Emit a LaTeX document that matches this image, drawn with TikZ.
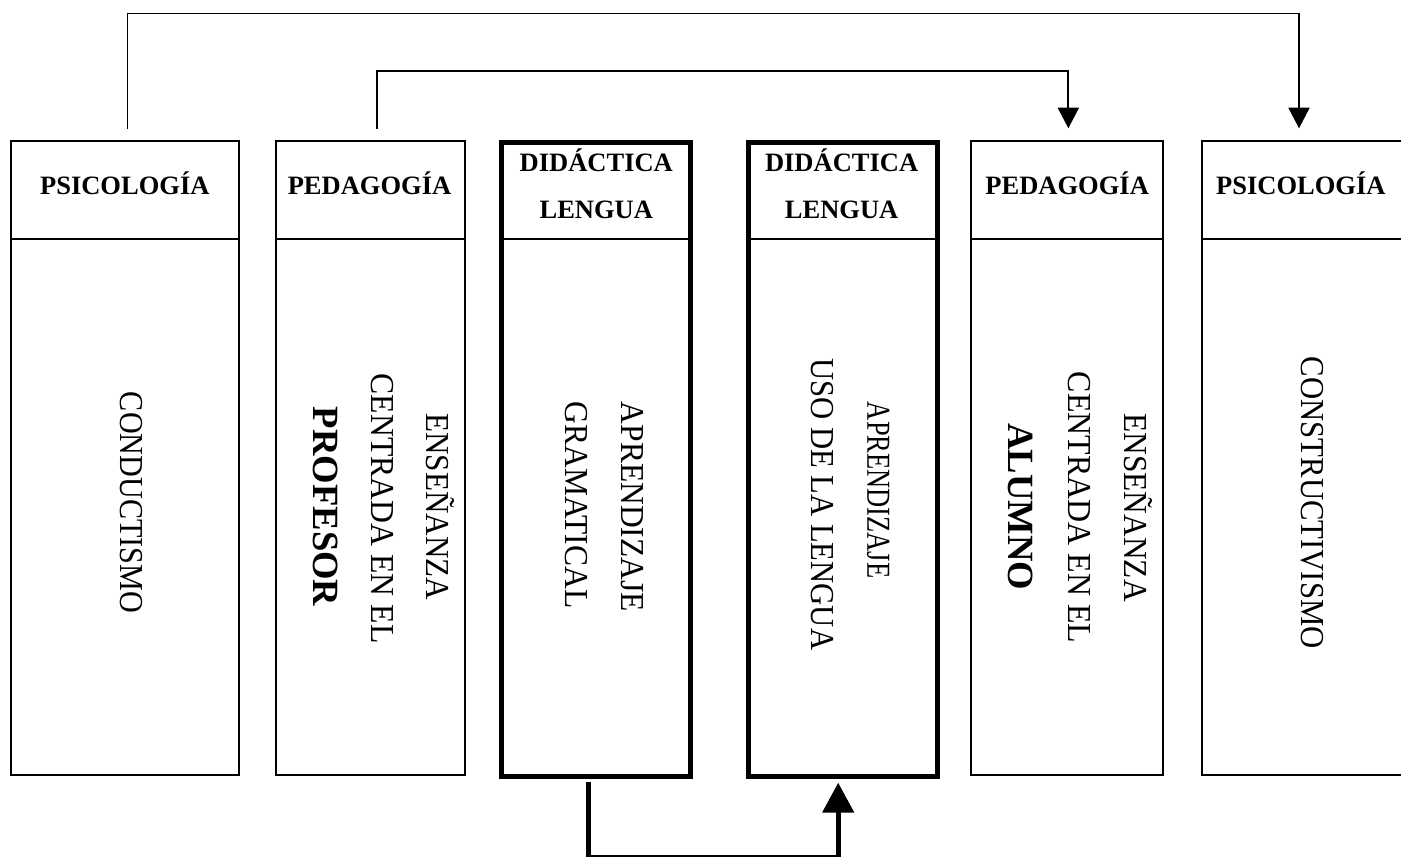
\documentclass[tikz,border=0pt]{standalone}
\usepackage{fontspec}
\setmainfont{Liberation Serif}
\usetikzlibrary{arrows.meta}
\newcommand\vsq[2]{\scalebox{#1}[1]{#2}}
\begin{document}
\begin{tikzpicture}[x=1pt,y=-1pt,
  box/.style={draw, rectangle, line width=1.8pt, inner sep=0pt, outer sep=0pt, anchor=north west},
  thickbox/.style={box, line width=5.3pt},
  divider/.style={line width=1.8pt},
  head/.style={font=\bfseries\fontsize{26.5}{30}\selectfont, inner sep=0pt, anchor=base},
  vlab/.style={rotate=-90, anchor=base west, inner sep=0pt, font=\fontsize{33.5}{36}\selectfont},
  vbold/.style={vlab, font=\bfseries\fontsize{37}{40}\selectfont},
  conn/.style={line width=1.8pt, -{Triangle[length=20.6pt,width=21pt]}},
  bigconn/.style={line width=5pt, -{Triangle[length=30pt,width=31pt]}}]
\useasboundingbox (0,0) rectangle (1401,857);
\clip (0,0) rectangle (1401,857);

% boxes
\node[box, minimum width=227.7pt, minimum height=633.8pt] (b1) at (11.3,141.2) {};
\node[box, minimum width=188.7pt, minimum height=633.8pt] (b2) at (276.3,141.2) {};
\node[thickbox, minimum width=189.3pt, minimum height=633.6pt] (b3) at (501.5,142.7) {};
\node[thickbox, minimum width=189pt, minimum height=633.6pt] (b4) at (748.2,142.7) {};
\node[box, minimum width=192.3pt, minimum height=633.8pt] (b5) at (971,141.2) {};
\node[box, minimum width=228pt, minimum height=633.8pt] (b6) at (1202,141.2) {};

% header dividers
\foreach \b in {b1,b2,b5,b6}
  \draw[divider] ([yshift=-97.5pt]\b.north west) -- ([yshift=-97.5pt]\b.north east);
\foreach \b in {b3,b4}
  \draw[divider] ([yshift=-96pt]\b.north west) -- ([yshift=-96pt]\b.north east);

% headers
\node[head] (h1) at (124.8,194.3) {PSICOLOGÍA};
\node[head] (h2) at (369.5,194.3) {PEDAGOGÍA};
\node[head] (h3a) at (596.3,171.7) {DIDÁCTICA};
\node[head] (h3b) at (596.3,218.3) {LENGUA};
\node[head] (h4a) at (841.6,171.7) {DIDÁCTICA};
\node[head] (h4b) at (841.6,218.3) {LENGUA};
\node[head] (h5) at (1067.2,194.3) {PEDAGOGÍA};
\node[head] (h6) at (1300.8,194.3) {PSICOLOGÍA};

% vertical texts
\node[vlab] (t1) at (120.7,391.7) {\vsq{0.90}{CONDUCTISMO}};
\node[vlab] (t2a) at (426.7,413.3) {\vsq{0.929}{ENSEÑANZA}};
\node[vlab] (t2b) at (371.7,373.3) {\vsq{0.948}{CENTRADA EN EL}};
\node[vbold] (t2c) at (313.3,406.7) {\vsq{0.99}{PROFESOR}};
\node[vlab] (t3a) at (621.7,401.7) {\vsq{0.94}{APRENDIZAJE}};
\node[vlab] (t3b) at (565.5,401.7) {\vsq{0.94}{GRAMATICAL}};
\node[vlab] (t4a) at (867.3,401.7) {\vsq{0.79}{APRENDIZAJE}};
\node[vlab] (t4b) at (811.7,358) {\vsq{0.915}{USO DE LA LENGUA}};
\node[vlab] (t5a) at (1124.3,413.3) {\vsq{0.937}{ENSEÑANZA}};
\node[vlab] (t5b) at (1068.3,371.7) {\vsq{0.954}{CENTRADA EN EL}};
\node[vbold] (t5c) at (1008.3,423.3) {\vsq{0.99}{ALUMNO}};
\node[vlab] (t6) at (1301.7,356.7) {\vsq{0.917}{CONSTRUCTIVISMO}};

% connectors
\draw[conn] ([xshift=2.3pt,yshift=12.2pt]b1.north) |- ([xshift=97pt,yshift=127.7pt]b6.north west) -- ([xshift=97pt,yshift=12.9pt]b6.north west);
\draw[conn] ([xshift=6pt,yshift=12.2pt]b2.north) |- ([xshift=1.2pt,yshift=70.2pt]b5.north) -- ([xshift=1.2pt,yshift=12.9pt]b5.north);
\draw[bigconn] ([xshift=-7.75pt,yshift=-5.4pt]b3.south) |- ([xshift=-4.5pt,yshift=-81.2pt]b4.south) -- ([xshift=-4.5pt,yshift=-6.4pt]b4.south);
\end{tikzpicture}
\end{document}
